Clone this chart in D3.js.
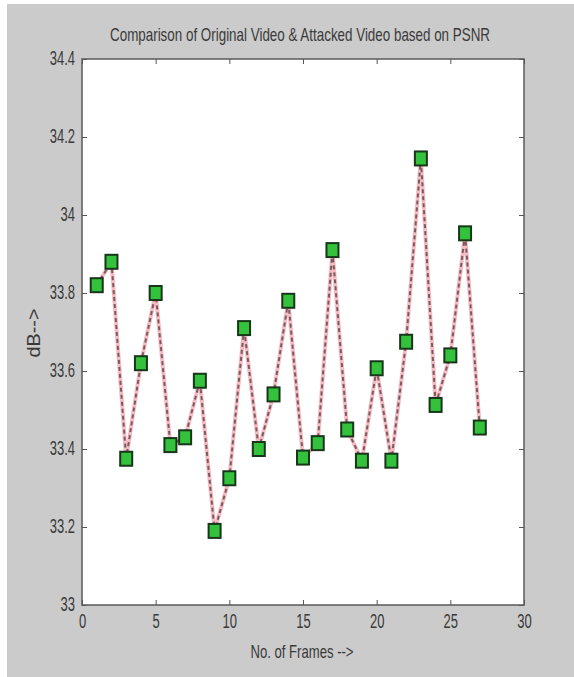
<!DOCTYPE html>
<html>
<head>
<meta charset="utf-8">
<script src="https://cdn.jsdelivr.net/npm/d3@7"></script>
<style>
  body { margin: 0; background: #fff; }
  text { font-family: "Liberation Sans", Arial, sans-serif; fill: #3a3a3a; }
</style>
</head>
<body>
<div id="chart"></div>
<script>
// Data
const frames = [1, 2, 3, 4, 5, 6, 7, 8, 9, 10, 11, 12, 13, 14, 15, 16, 17, 18, 19, 20, 21, 22, 23, 24, 25, 26, 27];
const psnr = [33.82, 33.88, 33.375, 33.62, 33.80, 33.41, 33.43, 33.575, 33.19, 33.325, 33.71, 33.40, 33.54, 33.78,
              33.378, 33.415, 33.91, 33.45, 33.37, 33.607, 33.37, 33.675, 34.145, 33.513, 33.64, 33.953, 33.455];
const xTicks = [0, 5, 10, 15, 20, 25, 30];
const yTicks = [33, 33.2, 33.4, 33.6, 33.8, 34, 34.2, 34.4];

const data = frames.map((f, i) => ({ frame: f, value: psnr[i] }));

const svgWidth = 574;
const svgHeight = 677;
const margin = { top: 59, right: 50, bottom: 72, left: 82 };
const width = svgWidth - margin.left - margin.right;
const height = svgHeight - margin.top - margin.bottom;

const svg = d3.select('#chart')
    .append('svg')
    .attr('width', svgWidth)
    .attr('height', svgHeight);

// grey figure background
svg.append('rect')
    .attr('x', 7).attr('y', 4)
    .attr('width', svgWidth - 7).attr('height', svgHeight - 4)
    .attr('fill', '#cbcbcb');

const g = svg.append('g')
    .attr('transform', `translate(${margin.left},${margin.top})`);

// white axes area
g.append('rect')
    .attr('width', width).attr('height', height)
    .attr('fill', '#fff');

const xScale = d3.scaleLinear().domain([0, 30]).range([0, width]);
const yScale = d3.scaleLinear().domain([33, 34.4]).range([height, 0]);

function styleTicks(sel, anchor) {
    sel.select('.domain').remove();
    sel.selectAll('line').attr('stroke', '#555');
    sel.selectAll('text')
        .style('font-size', '13px')
        .attr('fill', '#3a3a3a')
        .attr('text-anchor', anchor);
}

// bottom axis (ticks pointing in)
const xAxis = g.append('g')
    .attr('transform', `translate(0,${height})`)
    .call(d3.axisBottom(xScale).tickValues(xTicks).tickSize(-5).tickPadding(11).tickFormat(d3.format('d')));
styleTicks(xAxis, 'middle');
// original picture is stretched vertically
xAxis.selectAll('text').attr('transform', 'scale(1,1.5)').attr('y', 6);

// left axis
const yAxis = g.append('g')
    .call(d3.axisLeft(yScale).tickValues(yTicks).tickSize(-5).tickPadding(7).tickFormat(d => +d.toFixed(1)));
styleTicks(yAxis, 'end');
yAxis.selectAll('text').attr('transform', 'scale(1,1.5)').attr('dy', '0.3em');

// top and right ticks (box on)
g.append('g')
    .call(d3.axisTop(xScale).tickValues(xTicks).tickSize(-5).tickFormat(''))
    .call(s => { s.select('.domain').remove(); s.selectAll('line').attr('stroke', '#555'); });
g.append('g')
    .attr('transform', `translate(${width},0)`)
    .call(d3.axisRight(yScale).tickValues(yTicks).tickSize(-5).tickFormat(''))
    .call(s => { s.select('.domain').remove(); s.selectAll('line').attr('stroke', '#555'); });

// axes box
g.append('rect')
    .attr('width', width).attr('height', height)
    .attr('fill', 'none')
    .attr('stroke', '#5a5a5a')
    .attr('stroke-width', 1.5);

// line
const line = d3.line()
    .x(d => xScale(d.frame))
    .y(d => yScale(d.value));

g.append('path')
    .datum(data)
    .attr('d', line)
    .attr('fill', 'none')
    .attr('stroke', '#f5bcc3')
    .attr('stroke-width', 4);

g.append('path')
    .datum(data)
    .attr('d', line)
    .attr('fill', 'none')
    .attr('stroke', '#7d5a60')
    .attr('stroke-width', 2)
    .attr('stroke-dasharray', '4,3');

// square markers
g.selectAll('.marker')
    .data(data)
    .enter()
    .append('rect')
    .attr('class', 'marker')
    .attr('x', d => xScale(d.frame) - 6)
    .attr('y', d => yScale(d.value) - 7)
    .attr('width', 12)
    .attr('height', 14)
    .attr('fill', '#34c23c')
    .attr('stroke', '#17361a')
    .attr('stroke-width', 2);

// title
svg.append('text')
    .attr('transform', `translate(${margin.left + width / 2 - 3},41) scale(1,1.4)`)
    .attr('text-anchor', 'middle')
    .attr('textLength', 380)
    .attr('lengthAdjust', 'spacingAndGlyphs')
    .style('font-size', '13px')
    .text('Comparison of Original Video & Attacked Video based on PSNR');

// x label
svg.append('text')
    .attr('transform', `translate(302,658) scale(1,1.4)`)
    .attr('text-anchor', 'middle')
    .attr('textLength', 103)
    .attr('lengthAdjust', 'spacingAndGlyphs')
    .style('font-size', '13px')
    .text('No. of Frames -->');

// y label
svg.append('text')
    .attr('transform', `translate(40,333) rotate(-90) scale(1,1.4)`)
    .attr('text-anchor', 'middle')
    .attr('textLength', 49)
    .attr('lengthAdjust', 'spacingAndGlyphs')
    .style('font-size', '13px')
    .text('dB-->');
</script>
</body>
</html>
